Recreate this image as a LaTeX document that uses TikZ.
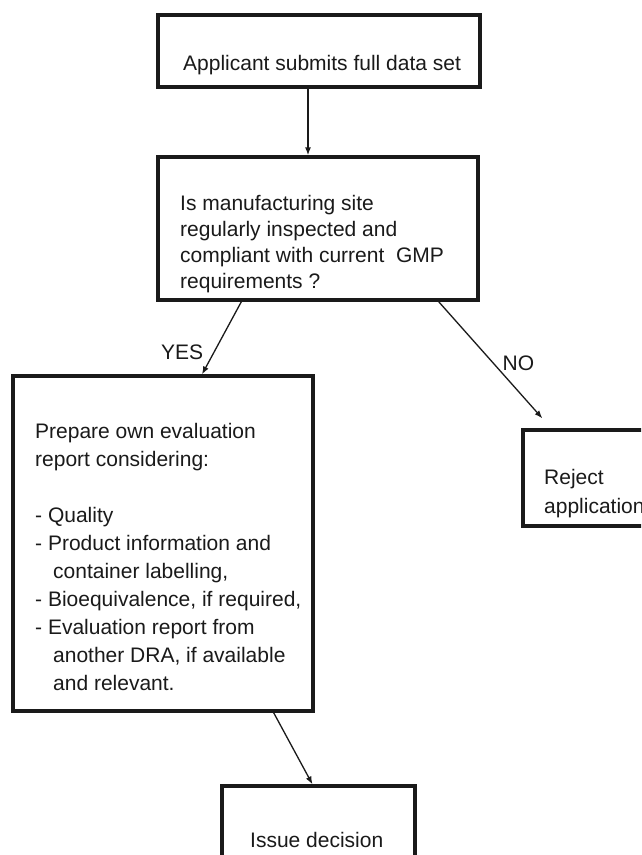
\documentclass[tikz,border=0pt]{standalone}
\usepackage{fontspec}
\setmainfont{Liberation Sans}
\usetikzlibrary{arrows.meta,calc}
\definecolor{ink}{HTML}{1A1A1A}
\tikzset{
  stepbox/.style={draw=ink,line width=3.2pt,rectangle,inner sep=0pt},
  boxtext/.style={text=ink,font=\fontsize{21}{28}\selectfont,align=left,inner sep=0pt,anchor=base west},
  flow/.style={-{Latex[length=8pt,width=6pt]},draw=ink,line width=1.3pt},
  answer/.style={text=ink,font=\fontsize{21}{25}\selectfont,inner sep=2pt}
}
\begin{document}
\begin{tikzpicture}[x=1pt,y=-1pt]
\useasboundingbox (0,0) rectangle (641,855);
\clip (0,0) rectangle (641,855);
\fill[white] (0,0) rectangle (641,855);
% boxes
\node[stepbox,minimum width=322pt,minimum height=72pt] (apply) at (319,51) {};
\node[stepbox,minimum width=320pt,minimum height=143pt] (check) at (318,228.5) {};
\node[stepbox,minimum width=300pt,minimum height=335pt] (prepare) at (163,543.5) {};
\node[stepbox,minimum width=160pt,minimum height=96pt] (reject) at (603,478) {};
\node[stepbox,minimum width=193pt,minimum height=114pt] (issue) at (318.5,843) {};
% texts (multi-line ones are placed by their last baseline)
\node[boxtext] (applytext) at (183,70) {Applicant submits full data set};
\node[boxtext,font=\fontsize{21}{26}\selectfont] (checktext) at (180,288)
  {Is manufacturing site\\regularly inspected and\\compliant with current \ GMP\\requirements ?};
\node[boxtext] (preparetext) at (35,690)
  {Prepare own evaluation\\report considering:\\[28pt]- Quality\\- Product information and\\
   \hspace*{18pt}container labelling,\\- Bioequivalence, if required,\\- Evaluation report from\\
   \hspace*{18pt}another DRA, if available\\\hspace*{18pt}and relevant.};
\node[boxtext,font=\fontsize{21}{29}\selectfont] (rejecttext) at (544,513) {Reject\\application};
\node[boxtext] (issuetext) at (250,847) {Issue decision};
% connectors
\draw[flow,line width=1.9pt] ([xshift=-11pt]apply.south) -- ([xshift=-10pt]check.north);
\draw[flow] ([xshift=85pt]check.south west) -- node[answer,pos=0.7,left=8pt] {YES} ([xshift=39pt]prepare.north);
\draw[flow] ([xshift=-41pt]check.south east) -- node[answer,pos=0.525,right=7pt] {NO} ([shift={(21pt,10pt)}]reject.north west);
\draw[flow] ([xshift=-41pt]prepare.south east) -- ([xshift=-6pt]issue.north);
\end{tikzpicture}
\end{document}
